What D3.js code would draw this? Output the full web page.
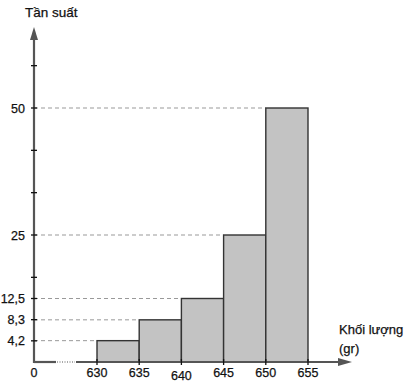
<!DOCTYPE html>
<html><head><meta charset="utf-8">
<script src="https://cdn.jsdelivr.net/npm/d3@7"></script>
<style>body{margin:0;background:#fff}svg{display:block}text{font-family:"Liberation Sans",Arial,sans-serif;fill:#111;stroke:#111;stroke-width:0.25px}</style>
</head><body>
<svg id="c" width="413" height="383"></svg>
<script>
const binStarts = [630, 635, 640, 645, 650];
const binWidth = 5;
const frequencies = [4.2, 8.3, 12.5, 25, 50];
const xTickValues = [630, 635, 640, 645, 650, 655];
const yLabelValues = [4.2, 8.3, 12.5, 25, 50];
const yLabelTexts = ["4,2", "8,3", "12,5", "25", "50"];
const yTickValues = [4.1667, 8.3333, 12.5, 16.6667, 25, 33.3333, 41.6667, 50, 58.3333];
const yTitle = "Tần suất";
const xTitle = ["Khối lượng", "(gr)"];

const svg = d3.select("#c");
const x0 = 34, y0 = 362;
const x = d3.scaleLinear().domain([630, 655]).range([97, 308]);
const y = d3.scaleLinear().domain([0, 50]).range([y0, 108]);

// dashed guide lines
svg.selectAll("line.guide").data(yLabelValues).enter().append("line")
  .attr("x1", x0).attr("x2", (d,i)=>x(binStarts[i])).attr("y1", d=>y(d)).attr("y2", d=>y(d))
  .attr("stroke", "#999").attr("stroke-width", 1).attr("stroke-dasharray", "4,3");

// bars
svg.selectAll("rect.bar").data(frequencies).enter().append("rect")
  .attr("x", (d,i)=>x(binStarts[i])).attr("width", (d,i)=>x(binStarts[i]+binWidth)-x(binStarts[i]))
  .attr("y", d=>y(d)).attr("height", d=>y0-y(d))
  .attr("fill", "#c3c3c3").attr("stroke", "#333").attr("stroke-width", 1.4);

// axes
const axisCol = "#555";
svg.append("line").attr("x1", x0).attr("x2", x0).attr("y1", y0+1).attr("y2", 38)
  .attr("stroke", axisCol).attr("stroke-width", 2.2);
svg.append("path").attr("d", `M${x0},27 L${x0-4},40 L${x0+4},40 Z`).attr("fill", axisCol);
svg.append("line").attr("x1", x0).attr("x2", 56).attr("y1", y0).attr("y2", y0)
  .attr("stroke", axisCol).attr("stroke-width", 2.2);
svg.append("line").attr("x1", 57).attr("x2", 75).attr("y1", y0).attr("y2", y0)
  .attr("stroke", axisCol).attr("stroke-width", 1.2).attr("stroke-dasharray", "1,1.5");
svg.append("line").attr("x1", 76).attr("x2", 340).attr("y1", y0).attr("y2", y0)
  .attr("stroke", axisCol).attr("stroke-width", 2.2);
svg.append("path").attr("d", `M352,${y0} L338,${y0-4} L338,${y0+4} Z`).attr("fill", axisCol);

// y ticks
svg.selectAll("line.yt").data(yTickValues).enter().append("line")
  .attr("x1", x0-3).attr("x2", x0+3).attr("y1", d=>y(d)).attr("y2", d=>y(d))
  .attr("stroke", "#111").attr("stroke-width", 1.3);
// x ticks
svg.selectAll("line.xt").data(xTickValues).enter().append("line")
  .attr("x1", d=>x(d)).attr("x2", d=>x(d)).attr("y1", y0-3).attr("y2", y0+3)
  .attr("stroke", "#111").attr("stroke-width", 1.3);

// y labels
svg.selectAll("text.yl").data(yLabelValues).enter().append("text")
  .attr("x", 25).attr("y", d=>y(d)+4.5).attr("text-anchor", "end")
  .attr("font-size", 12.5).text((d,i)=>yLabelTexts[i]);
// x labels
svg.selectAll("text.xl").data(xTickValues).enter().append("text")
  .attr("x", d=>x(d)).attr("y", d=> d===640 ? 380 : 377).attr("text-anchor", "middle")
  .attr("font-size", 12.5).text(d=>d);
svg.append("text").attr("x", x0).attr("y", 377).attr("text-anchor", "middle")
  .attr("font-size", 12.5).text("0");

// titles
svg.append("text").attr("x", 25).attr("y", 17).attr("font-size", 13.5).text(yTitle);
svg.append("text").attr("x", 339).attr("y", 334).attr("font-size", 13).text(xTitle[0]);
svg.append("text").attr("x", 339).attr("y", 353).attr("font-size", 13).text(xTitle[1]);
</script>
</body></html>
